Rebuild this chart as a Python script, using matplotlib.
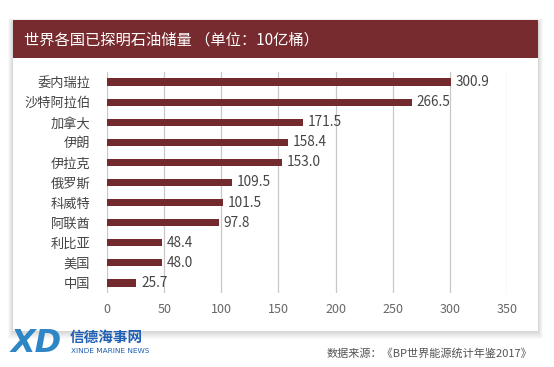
import matplotlib
matplotlib.use("Agg")
import matplotlib.pyplot as plt
from matplotlib.patches import Rectangle

plt.rcParams['font.family'] = ['Noto Sans CJK SC', 'DejaVu Sans']

countries = ['委内瑞拉', '沙特阿拉伯', '加拿大', '伊朗', '伊拉克', '俄罗斯', '科威特', '阿联酋', '利比亚', '美国', '中国']
reserves = [300.9, 266.5, 171.5, 158.4, 153.0, 109.5, 101.5, 97.8, 48.4, 48.0, 25.7]
xticks = [0, 50, 100, 150, 200, 250, 300, 350]
title = '世界各国已探明石油储量 （单位：10亿桶）'
source = '数据来源：《BP世界能源统计年鉴2017》'

W, H = 554, 367
fig = plt.figure(figsize=(W / 100, H / 100), dpi=100)
fig.patch.set_facecolor('white')

def fx(px):
    return px / W

def fy(py):
    return 1 - py / H

# soft card shadow (offset downward)
for d in range(1, 9):
    fig.patches.append(Rectangle((fx(13 - d * 0.6), fy(331 + d)), fx(525 + d * 1.2), (331 - 22 + d * 1.5) / H,
                                 transform=fig.transFigure, facecolor='black', alpha=0.018,
                                 edgecolor='none', zorder=0))
# card
fig.patches.append(Rectangle((fx(13), fy(331)), fx(525), (331 - 20) / H, transform=fig.transFigure,
                             facecolor='white', edgecolor='none', zorder=1))
# header band
fig.patches.append(Rectangle((fx(13), fy(58)), fx(525), (58 - 20) / H, transform=fig.transFigure,
                             facecolor='#772b2f', edgecolor='none', zorder=2))
fig.text(fx(24), fy(40), title, color='white', fontsize=11, va='center', ha='left', zorder=3)

ax = fig.add_axes([fx(107), fy(293), fx(507 - 107), (293 - 72) / H])
ax.set_zorder(5)
ax.patch.set_alpha(0)
ypos = list(range(len(countries)))
ax.barh(ypos, reserves, height=0.36, color='#722a2e', zorder=3)
ax.set_xlim(0, 350)
ax.set_ylim(len(countries) - 0.5, -0.5)
ax.set_yticks(ypos)
ax.set_yticklabels(countries, fontsize=9.5, color='#444444')
ax.set_xticks(xticks)
ax.set_xticklabels([str(t) for t in xticks], fontsize=9, color='#666666')
ax.tick_params(axis='both', length=0)
ax.tick_params(axis='y', pad=12)
ax.tick_params(axis='x', pad=7)
for s in ax.spines.values():
    s.set_visible(False)
ax.grid(axis='x', color='#c8c8c8', linewidth=0.9, zorder=1)
for y, v in zip(ypos, reserves):
    ax.annotate(f'{v:.1f}', (v, y), xytext=(3.5, 0), textcoords='offset points',
                va='center', ha='left', fontsize=9.8, color='#444444', zorder=4)

# footer logo
fig.text(fx(11), fy(344), 'XD', fontsize=23, fontweight='bold', fontstyle='italic', color='#2f86c6',
         family=['DejaVu Sans'], va='center', ha='left')
fig.text(fx(70), fy(337), '信德海事网', fontsize=10.5, fontweight='bold', color='#1f5fb4', va='center', ha='left')
fig.text(fx(71), fy(351), 'XINDE MARINE NEWS', fontsize=5.3, color='#1f5fb4', va='center', ha='left',
         family=['DejaVu Sans'])
fig.text(fx(532), fy(353), source, fontsize=8, color='#555555', va='center', ha='right')

fig.savefig('out.png', dpi=100, facecolor='white')
